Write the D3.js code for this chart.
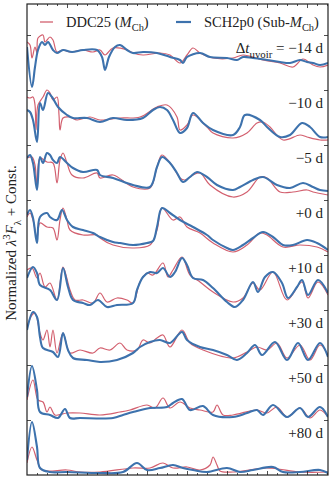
<!DOCTYPE html>
<html>
<head>
<meta charset="utf-8">
<script src="https://cdn.jsdelivr.net/npm/d3@7"></script>
<style>
  body { margin: 0; background: #fff; }
  text { font-family: "Liberation Serif", "DejaVu Serif", serif; fill: #222; }
</style>
</head>
<body>
<div id="spectra"></div>
<script>
// phases relative to uvoir maximum (days), top to bottom
var phases = ["\u221214", "\u221210", "\u22125", "+0", "+10", "+30", "+50", "+80"];
// vertical constant added between consecutive spectra
var offsetStep = 0.55;
var waveRange = [3000, 10525];
var waveMajor = [4000, 5000, 6000, 7000, 8000, 9000, 10000];

// DDC25 (M_Ch) : [wavelength (A), normalized flux]
var ddcM14 = [[3000,0.43],[3075,0.40],[3125,0.27],[3200,0.38],[3250,0.32],[3275,0.47],[3400,0.50],[3450,0.43],[3575,0.48],[3650,0.45],[3750,0.33],[3900,0.35],[4075,0.33],[4400,0.35],[4650,0.33],[4825,0.35],[4950,0.30],[5150,0.37],[5500,0.35],[5650,0.32],[5900,0.30],[6325,0.32],[6575,0.30],[6825,0.22],[7000,0.30],[7150,0.37],[7325,0.32],[7650,0.27],[8150,0.27],[8400,0.30],[8900,0.25],[9325,0.22],[9650,0.18],[9900,0.26],[10150,0.20],[10325,0.18],[10525,0.20]];
var ddcM10 = [[3000,0.43],[3075,0.42],[3150,0.43],[3200,0.35],[3225,0.10],[3275,0.35],[3400,0.43],[3500,0.50],[3575,0.47],[3650,0.40],[3750,0.43],[3800,0.25],[3825,0.10],[3900,0.22],[4075,0.23],[4250,0.20],[4575,0.23],[4825,0.20],[5325,0.22],[5825,0.23],[6250,0.33],[6500,0.35],[6750,0.23],[6825,0.10],[7000,0.15],[7150,0.25],[7500,0.13],[7650,0.07],[8150,0.02],[8500,0.07],[8750,0.17],[8900,0.18],[9075,0.13],[9400,0.00],[9825,0.05],[10000,0.03],[10325,0.00],[10525,0.00]];
var ddcM5 = [[3000,0.37],[3125,0.38],[3200,0.30],[3250,0.08],[3325,0.37],[3500,0.33],[3650,0.32],[3750,0.12],[3825,0.35],[3900,0.42],[4000,0.32],[4125,0.20],[4400,0.17],[4750,0.22],[4825,0.17],[5150,0.20],[5650,0.08],[6075,0.07],[6250,0.28],[6375,0.40],[6650,0.28],[6825,0.17],[6950,0.15],[7150,0.20],[7325,0.22],[7575,0.10],[8150,-0.02],[8500,0.03],[8825,0.18],[9000,0.17],[9325,0.03],[9650,0.03],[10000,0.05],[10150,0.03],[10525,0.00]];
var ddcP0 = [[3000,0.33],[3075,0.37],[3150,0.30],[3250,0.12],[3325,0.27],[3500,0.23],[3650,0.22],[3750,0.10],[3825,0.30],[3900,0.42],[4000,0.30],[4075,0.20],[4400,0.15],[4750,0.15],[4825,0.12],[5150,0.05],[5650,0.02],[6075,0.05],[6250,0.20],[6375,0.42],[6650,0.30],[6825,0.33],[7000,0.23],[7325,0.17],[7650,0.07],[8150,-0.02],[8500,0.05],[8825,0.17],[9000,0.15],[9400,0.03],[9825,0.05],[10250,0.03],[10525,-0.02]];
var ddcP10 = [[3000,0.35],[3125,0.37],[3250,0.27],[3325,0.32],[3450,0.18],[3575,0.22],[3750,0.05],[3900,0.38],[4075,0.15],[4200,0.05],[4400,0.05],[4650,0.02],[4825,0.12],[5000,0.03],[5250,0.07],[5500,0.05],[5650,0.02],[5825,0.23],[6000,0.32],[6150,0.30],[6400,0.42],[6525,0.28],[6650,0.35],[6875,0.48],[7075,0.30],[7325,0.23],[7650,0.13],[8150,0.03],[8400,0.07],[8650,0.22],[8825,0.15],[9150,0.33],[9500,0.05],[9875,0.23],[10025,0.07],[10275,0.23],[10525,0.10]];
var ddcP30 = [[3000,0.33],[3125,0.45],[3200,0.47],[3325,0.27],[3400,0.20],[3500,0.30],[3575,0.13],[3650,0.30],[3750,0.07],[3900,0.27],[4075,0.07],[4325,0.10],[4650,0.07],[4825,0.12],[5075,0.10],[5325,0.17],[5500,0.10],[5750,0.10],[5900,0.20],[6075,0.17],[6250,0.22],[6400,0.25],[6575,0.13],[6875,0.30],[7075,0.17],[7400,0.10],[8150,0.02],[8500,0.08],[8750,0.13],[9000,0.10],[9250,0.17],[9500,0.02],[9825,0.15],[10075,0.00],[10325,0.15],[10525,0.05]];
var ddcP50 = [[3000,0.15],[3150,0.35],[3275,0.15],[3400,0.13],[3500,0.03],[3575,0.08],[3700,0.00],[4000,0.02],[4325,0.02],[4825,0.00],[5325,0.03],[5575,0.05],[6000,0.10],[6200,0.07],[6400,0.17],[6575,0.07],[6825,0.13],[7075,0.07],[7325,0.05],[7650,0.03],[7750,0.10],[7900,0.00],[8150,0.00],[8750,0.05],[9000,0.02],[9250,0.08],[9500,-0.02],[9825,0.07],[10075,-0.03],[10325,0.05],[10525,-0.02]];
var ddcP80 = [[3000,0.07],[3125,0.23],[3250,0.10],[3375,0.00],[4000,0.00],[4325,-0.02],[4825,-0.02],[5650,0.02],[6075,0.02],[6400,0.07],[6650,0.02],[7000,0.03],[7325,0.00],[7575,0.05],[7650,0.13],[7750,0.05],[7825,-0.01],[8150,-0.02],[9000,0.02],[9825,-0.02],[10525,-0.02]];

// SCH2p0 (Sub-M_Ch)
var schM14 = [[3000,0.38],[3125,-0.02],[3200,0.18],[3275,0.35],[3375,0.43],[3450,0.40],[3525,0.43],[3650,0.35],[3750,0.32],[3900,0.35],[4125,0.33],[4400,0.35],[4750,0.35],[4875,0.28],[4950,0.15],[5050,0.28],[5200,0.38],[5325,0.40],[5500,0.35],[5650,0.32],[5900,0.33],[6250,0.32],[6575,0.28],[6825,0.25],[6900,0.22],[7000,0.28],[7325,0.32],[7575,0.28],[8000,0.27],[8250,0.25],[8400,0.28],[8650,0.27],[9000,0.25],[9325,0.23],[9575,0.22],[9825,0.25],[10000,0.23],[10150,0.22],[10325,0.20],[10525,0.22]];
var schM10 = [[3000,0.30],[3075,0.28],[3150,0.20],[3250,-0.02],[3325,0.37],[3400,0.30],[3525,0.47],[3625,0.43],[3775,0.33],[4000,0.25],[4150,0.22],[4500,0.22],[4825,0.18],[5150,0.22],[5500,0.20],[5900,0.22],[6150,0.30],[6325,0.33],[6500,0.30],[6650,0.20],[6825,0.07],[7000,0.12],[7150,0.27],[7400,0.17],[7650,0.10],[8150,0.05],[8325,0.13],[8450,0.25],[8825,0.20],[9000,0.13],[9325,0.03],[9575,0.05],[9875,0.17],[10075,0.13],[10325,0.03],[10525,0.03]];
var schM5 = [[3000,0.37],[3075,0.40],[3150,0.32],[3250,0.05],[3325,0.38],[3400,0.32],[3500,0.42],[3575,0.40],[3650,0.35],[3750,0.32],[3825,0.38],[4000,0.32],[4150,0.27],[4400,0.23],[4750,0.25],[4825,0.20],[5150,0.17],[5650,0.10],[6075,0.08],[6250,0.28],[6375,0.38],[6575,0.32],[6750,0.22],[6900,0.13],[7075,0.18],[7250,0.23],[7500,0.18],[7750,0.10],[8150,0.05],[8325,0.08],[8650,0.15],[8900,0.18],[9250,0.10],[9575,0.07],[9900,0.12],[10150,0.08],[10325,0.05],[10525,0.04]];
var schP0 = [[3000,0.35],[3075,0.40],[3150,0.32],[3250,0.07],[3325,0.33],[3500,0.37],[3575,0.33],[3750,0.30],[3875,0.40],[4000,0.30],[4150,0.23],[4400,0.20],[4650,0.17],[4825,0.13],[5150,0.08],[5325,0.07],[5650,0.05],[6000,0.07],[6150,0.09],[6250,0.23],[6375,0.42],[6575,0.37],[6825,0.30],[7150,0.23],[7500,0.15],[7650,0.10],[8000,0.02],[8150,0.00],[8400,0.05],[8650,0.12],[8900,0.18],[9150,0.13],[9400,0.05],[9650,0.05],[10000,0.10],[10250,0.07],[10525,0.00]];
var schP10 = [[3000,0.27],[3150,0.38],[3250,0.32],[3325,0.20],[3575,0.15],[3750,0.05],[3900,0.37],[4025,0.18],[4150,0.05],[4400,0.02],[4575,0.00],[4775,0.05],[5000,-0.02],[5250,0.00],[5650,0.02],[5750,0.15],[5900,0.28],[6075,0.33],[6250,0.32],[6400,0.37],[6575,0.28],[6700,0.33],[6875,0.47],[7000,0.40],[7150,0.27],[7400,0.25],[7650,0.17],[8000,0.03],[8200,-0.02],[8400,0.05],[8650,0.23],[8775,0.13],[8950,0.28],[9150,0.33],[9375,0.22],[9525,0.07],[9750,0.18],[9875,0.25],[10025,0.10],[10275,0.25],[10525,0.12]];
var schP30 = [[3000,0.30],[3150,0.48],[3250,0.43],[3325,0.23],[3400,0.12],[3650,0.08],[3775,0.03],[3900,0.27],[4025,0.10],[4150,0.02],[4500,0.00],[4825,-0.02],[5250,0.00],[5650,0.07],[5825,0.13],[6075,0.18],[6325,0.20],[6575,0.17],[6875,0.28],[7000,0.20],[7325,0.13],[7650,0.10],[8000,0.05],[8250,0.00],[8500,0.07],[8700,0.15],[8875,0.05],[9200,0.18],[9500,0.00],[9775,0.17],[10025,0.00],[10325,0.17],[10525,0.03]];
var schP50 = [[3000,0.18],[3125,0.49],[3250,0.25],[3325,0.03],[3575,0.00],[3775,-0.03],[3950,0.06],[4075,-0.03],[4325,-0.03],[5150,-0.03],[5400,0.00],[5650,0.03],[6075,0.07],[6500,0.08],[6650,0.12],[6875,0.16],[7075,0.05],[7400,0.09],[7650,0.00],[8150,-0.02],[8500,0.02],[8750,0.05],[8900,0.00],[9150,0.10],[9500,-0.02],[9825,0.07],[10025,-0.02],[10325,0.08],[10525,-0.02]];
var schP80 = [[3000,0.10],[3125,0.48],[3250,0.23],[3325,0.02],[3575,-0.02],[4000,-0.02],[4825,-0.03],[5400,-0.02],[5750,0.07],[6000,0.00],[6325,0.02],[6650,0.05],[6900,0.02],[7150,0.00],[7500,-0.02],[8000,0.02],[8325,-0.02],[8650,0.00],[9150,0.03],[9400,-0.02],[9825,-0.02],[10325,0.00],[10525,-0.03]];

var ddcSpectra = [ddcM14, ddcM10, ddcM5, ddcP0, ddcP10, ddcP30, ddcP50, ddcP80];
var schSpectra = [schM14, schM10, schM5, schP0, schP10, schP30, schP50, schP80];

var colRed = "#d3606f", colBlue = "#3d72ad";

var margin = {top: 4, right: 3, bottom: 25, left: 27},
    width = 331 - margin.left - margin.right,
    height = 500 - margin.top - margin.bottom;

var svg = d3.select("#spectra").append("svg")
  .attr("width", 331).attr("height", 500)
  .append("g")
  .attr("transform", "translate(" + margin.left + "," + margin.top + ")");

var x = d3.scaleLinear().domain(waveRange).range([0, width]);
var y = d3.scaleLinear().domain([-0.05, 4.66]).range([height, 0]);

svg.append("clipPath").attr("id", "clip")
  .append("rect").attr("width", width).attr("height", height);

function offsetOf(i) { return (phases.length - 1 - i) * offsetStep; }

var line = d3.line().curve(d3.curveCatmullRom.alpha(0.5));

var lines = svg.append("g").attr("clip-path", "url(#clip)");

ddcSpectra.forEach(function(s, i) {
  lines.append("path")
    .attr("d", line(s.map(function(d) { return [x(d[0]), y(d[1] + offsetOf(i))]; })))
    .attr("fill", "none").attr("stroke", colRed).attr("stroke-width", 1.2)
    .attr("stroke-linejoin", "round");
});
schSpectra.forEach(function(s, i) {
  lines.append("path")
    .attr("d", line(s.map(function(d) { return [x(d[0]), y(d[1] + offsetOf(i))]; })))
    .attr("fill", "none").attr("stroke", colBlue).attr("stroke-width", 2.1)
    .attr("stroke-linejoin", "round");
});

// ticks (inward, no labels)
var minor = d3.range(3250, 10525, 250).filter(function(v) { return v % 1000 !== 0; });
function tickAxis(axis, vals, size, tr) {
  var g = svg.append("g").attr("transform", tr)
    .call(axis.tickValues(vals).tickSize(size).tickSizeOuter(0).tickFormat(""));
  g.select(".domain").remove();
  g.selectAll("line").attr("stroke", "#222").attr("stroke-width", 0.8);
}
tickAxis(d3.axisBottom(x), waveMajor, -4, "translate(0," + height + ")");
tickAxis(d3.axisBottom(x), minor, -2, "translate(0," + height + ")");
tickAxis(d3.axisTop(x), waveMajor, -4, "translate(0,0)");
tickAxis(d3.axisTop(x), minor, -2, "translate(0,0)");
var yTicks = phases.map(function(p, i) { return offsetOf(i) + 0.5; });
tickAxis(d3.axisLeft(y), yTicks, -4, "translate(0,0)");
tickAxis(d3.axisRight(y), yTicks, -4, "translate(" + width + ",0)");

svg.append("rect").attr("width", width).attr("height", height)
  .attr("fill", "none").attr("stroke", "#222").attr("stroke-width", 1.2);

// rich text helper: parts = [{t, it, sub, sup}]
function richText(sel, parts, size) {
  var shift = 0;
  parts.forEach(function(p) {
    var ts = sel.append("tspan").text(p.t);
    var target = p.sub ? size * 0.3 : (p.sup ? -size * 0.4 : 0);
    ts.attr("dy", target - shift);
    shift = target;
    if (p.sub || p.sup) ts.attr("font-size", size * 0.72);
    if (p.it) ts.attr("font-style", "italic");
  });
}

// phase labels
phases.forEach(function(p, i) {
  var t = svg.append("text")
    .attr("x", width - 5).attr("y", y(offsetOf(i) + 0.32))
    .attr("text-anchor", "end").attr("font-size", 15);
  if (i === 0) {
    richText(t, [{t: "\u0394"}, {t: "t", it: true}, {t: "uvoir", sub: true},
                 {t: " = " + p + " d"}], 15);
  } else {
    t.text(p + " d");
  }
});

// legend
var leg = svg.append("g").attr("transform", "translate(0,18)");
leg.append("line").attr("x1", 13).attr("x2", 26).attr("y1", 0).attr("y2", 0)
  .attr("stroke", colRed).attr("stroke-width", 1.3);
richText(leg.append("text").attr("x", 39).attr("y", 5).attr("font-size", 14.5),
  [{t: "DDC25 ("}, {t: "M", it: true}, {t: "Ch", sub: true}, {t: ")"}], 14.5);
leg.append("line").attr("x1", 149).attr("x2", 164).attr("y1", 0).attr("y2", 0)
  .attr("stroke", colBlue).attr("stroke-width", 2.2);
richText(leg.append("text").attr("x", 177).attr("y", 5).attr("font-size", 14.5),
  [{t: "SCH2p0 (Sub-"}, {t: "M", it: true}, {t: "Ch", sub: true}, {t: ")"}], 14.5);

// y label
var yl = d3.select("svg").append("text")
  .attr("transform", "translate(16,243) rotate(-90)")
  .attr("text-anchor", "middle").attr("font-size", 15);
richText(yl, [{t: "Normalized "}, {t: "\u03bb", it: true}, {t: "3", sup: true},
              {t: "F", it: true}, {t: "\u03bb", sub: true}, {t: " + Const."}], 15);
</script>
</body>
</html>
